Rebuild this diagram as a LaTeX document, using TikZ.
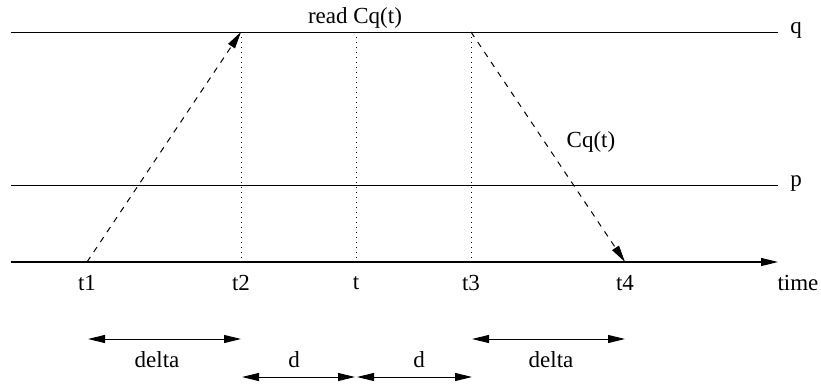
\documentclass[tikz,border=0pt]{standalone}
\usepackage{fontspec}
\setmainfont{Liberation Serif}
\usetikzlibrary{arrows.meta}

\begin{document}
\begin{tikzpicture}[x=0.5pt,y=-0.5pt,line width=0.5pt,
  font=\fontsize{11.5}{14}\selectfont,
  tip/.style={-{Triangle[length=8.5pt,width=4pt]}},
  twotip/.style={{Triangle[length=8.5pt,width=4pt]}-{Triangle[length=8.5pt,width=4pt]}}]

\useasboundingbox (0,0) rectangle (821,386);

% Linien der Prozesse
\coordinate (qstart) at (11,32);
\coordinate (qend) at (778,32);
\coordinate (pstart) at (11,185);
\coordinate (pend) at (778,185);
\coordinate (axstart) at (11,262);
\coordinate (axend) at (778,262);

\draw (qstart) -- (qend);
\draw (pstart) -- (pend);
\draw[tip, line width=0.6pt] (axstart) -- (axend);

\node (qlab) at (796,30) {q};
\node (plab) at (796,184) {p};
\node (timelab) at (798,283) {time};

% Zeitpunkte auf der Achse
\foreach \name/\x in {t1/87, t2/241, t/356, t3/471, t4/625} {
  \coordinate (\name) at (\x,262);
  \coordinate (q\name) at (\x,32);
  \node (lab\name) at (\x,283) {\name};
}

% gepunktete Linien
\foreach \name in {t2, t, t3}
  \draw[dotted] (q\name) -- (\name);

% Nachrichten
\draw[tip, dashed] (t1) -- (qt2);
\draw[tip, dashed] (qt3) -- (t4);

\node (readlab) at (355,18) {read Cq(t)};
\node (msglab) at (591,142) {Cq(t)};

% Abstaende
\coordinate (dl1) at (88,339);
\coordinate (dl2) at (241,339);
\coordinate (dr1) at (472,339);
\coordinate (dr2) at (625,339);
\draw[twotip] (dl1) -- (dl2);
\draw[twotip] (dr1) -- (dr2);
\node (deltal) at (157,360) {delta};
\node (deltar) at (551,360) {delta};

\coordinate (da) at (242,377);
\coordinate (db) at (355,377);
\coordinate (dc) at (357,377);
\coordinate (dd) at (472,377);
\draw[twotip] (da) -- (db);
\draw[twotip] (dc) -- (dd);
\node (dlab1) at (294,360) {d};
\node (dlab2) at (419,360) {d};

\end{tikzpicture}
\end{document}
